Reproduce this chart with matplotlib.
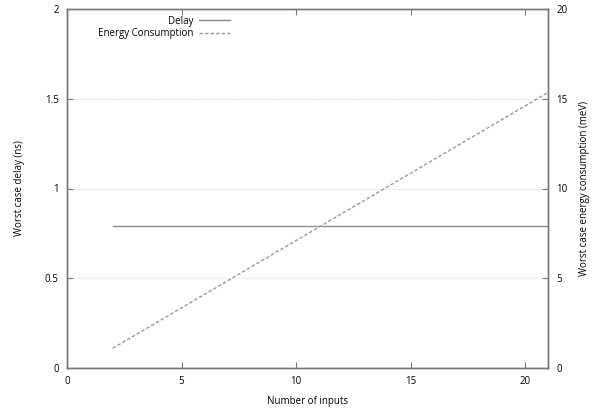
import matplotlib.pyplot as plt

n_inputs = [2, 3, 4, 5, 6, 7, 8, 9, 10, 11, 12, 13, 14, 15, 16, 17, 18, 19, 20, 21]
delay_ns = [0.79] * 20
energy_mev = [1.1, 1.85, 2.6, 3.35, 4.1, 4.85, 5.6, 6.35, 7.1, 7.85,
              8.6, 9.35, 10.1, 10.85, 11.6, 12.35, 13.1, 13.85, 14.6, 15.35]

plt.rcParams['font.family'] = ['Open Sans', 'DejaVu Sans']
plt.rcParams['font.size'] = 7

fig = plt.figure(figsize=(5.92, 4.08), dpi=100)
ax = fig.add_axes([67/592, 40/408, 481/592, 359/408])
ax2 = ax.twinx()

l1, = ax.plot(n_inputs, delay_ns, color='#8a8a8a', lw=1.0)
l2, = ax2.plot(n_inputs, energy_mev, color='#9a9a9a', lw=1.0, ls=(0, (2.5, 1.5)))

ax.set_xlim(0, 21)
ax.set_ylim(0, 2)
ax2.set_ylim(0, 20)
ax.set_xticks([0, 5, 10, 15, 20])
ax.set_yticks([0, 0.5, 1, 1.5, 2])
ax.set_yticklabels(['0', '0.5', '1', '1.5', '2'])
ax2.set_yticks([0, 5, 10, 15, 20])

# light dotted grid lines
for y in [0.5, 1, 1.5]:
    ax.axhline(y, color='#dddddd', lw=0.8, ls=(0, (1, 1)), zorder=0)

for a in (ax, ax2):
    for s in a.spines.values():
        s.set_color('#777777')
        s.set_linewidth(1.0)
ax.tick_params(axis='both', direction='in', length=4, color='#777777', top=True, pad=6)
ax.tick_params(axis='y', right=False)
ax2.tick_params(axis='y', direction='in', length=4, color='#777777', pad=6)

ax.set_xlabel('Number of inputs', labelpad=6)
ax.set_ylabel('Worst case delay (ns)', labelpad=14)
ax2.set_ylabel('Worst case energy consumption (meV)', labelpad=8)

ax.legend([l1, l2], ['Delay', 'Energy Consumption'], loc='upper left',
          bbox_to_anchor=(0.05, 1.0), frameon=False, markerfirst=False,
          handlelength=3.2, handletextpad=0.6, labelspacing=0.15, borderaxespad=0.3)

plt.savefig('out.png', dpi=100)
